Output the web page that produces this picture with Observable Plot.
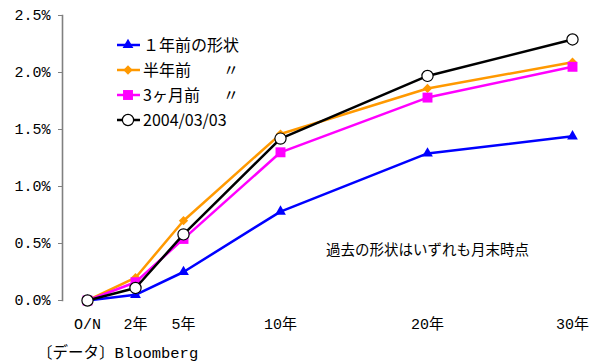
<!DOCTYPE html>
<html>
<head>
<meta charset="utf-8">
<script src="https://cdn.jsdelivr.net/npm/d3@7"></script>
<script src="https://cdn.jsdelivr.net/npm/@observablehq/plot@0.6"></script>
<style>
  html, body { margin: 0; padding: 0; background: #fff; }
  #chart { width: 600px; height: 363px; }
  #chart svg { display: block; }
</style>
</head>
<body>
<div id="chart"></div>
<script>
// Maturities (years; O/N = 0) and their axis labels
const maturities = [0, 2, 5, 10, 20, 30];
const tickLabels = ["O/N", "2年", "5年", "10年", "20年", "30年"];

// Yield curve shapes, %
const yearAgo        = [0.00, 0.05, 0.25, 0.78, 1.29, 1.44];
const halfYearAgo    = [0.00, 0.20, 0.70, 1.46, 1.86, 2.09];
const threeMonthsAgo = [0.00, 0.16, 0.54, 1.30, 1.78, 2.05];
const current        = [0.00, 0.11, 0.58, 1.42, 1.97, 2.29];

const seriesNames = ["１年前の形状", "半年前", "3ヶ月前", "2004/03/03"];
const seriesDitto = [false, true, true, false];
const seriesColors = ["#0000ff", "#ff9900", "#ff00ff", "#000000"];
const seriesSymbols = ["triangle", "diamond2", "square", "circle"];
const seriesR = [4.0, 4.2, 5.6, 5.6];
const yTicks = [0, 0.5, 1.0, 1.5, 2.0, 2.5];
const note = "過去の形状はいずれも月末時点";
const source = "〔データ〕Bloomberg";

const monoFont = "'Liberation Mono', 'Noto Sans CJK JP', monospace";
const allSeries = [yearAgo, halfYearAgo, threeMonthsAgo, current];
const rows = allSeries.flatMap((vals, s) =>
  vals.map((v, i) => ({series: s, m: maturities[i], v}))
);

const marks = [
  Plot.frame({anchor: "left", stroke: "#808080", strokeWidth: 1.6}),
  Plot.axisY({
    ticks: yTicks, tickFormat: d => d.toFixed(1) + "%", label: null,
    tickSize: 4, tickPadding: 8, stroke: "#808080",
    fontSize: 15, fontFamily: monoFont, fill: "#000"
  }),
  Plot.axisX({
    ticks: maturities, tickFormat: d => tickLabels[maturities.indexOf(d)], label: null,
    tickSize: 0, tickPadding: 18,
    fontSize: 15, fontFamily: monoFont, fill: "#000"
  }),
  Plot.text([note], {
    x: 20, y: 0.44, text: d => d, fontSize: 14.5,
    fontFamily: "Noto Sans CJK JP", fill: "#000", textAnchor: "middle"
  })
];

allSeries.forEach((vals, s) => {
  const data = rows.filter(d => d.series === s);
  marks.push(Plot.line(data, {x: "m", y: "v", stroke: seriesColors[s], strokeWidth: 2.5}));
  marks.push(Plot.dot(data, {
    x: "m", y: "v", symbol: seriesSymbols[s], r: seriesR[s],
    fill: s === 3 ? "#fff" : seriesColors[s],
    stroke: s === 3 ? "#000" : "none", strokeWidth: 1.2
  }));
});

const chart = Plot.plot({
  width: 600,
  height: 363,
  marginTop: 15,
  marginBottom: 63,
  marginLeft: 62,
  marginRight: 20,
  x: {type: "linear", domain: maturities, range: [87, 135, 183, 280, 427, 572]},
  y: {domain: [0, 2.5]},
  style: {background: "#fff"},
  marks
});

// Legend in the upper-left of the plot area
const svg = d3.select(chart);
const legend = svg.append("g").attr("text-anchor", "start");
const symbolFor = {
  triangle: d3.symbolTriangle, diamond2: d3.symbolDiamond2,
  square: d3.symbolSquare, circle: d3.symbolCircle
};
const rowY = [45, 70, 95, 120];
seriesNames.forEach((name, s) => {
  const y = rowY[s];
  const g = legend.append("g");
  g.append("line").attr("x1", 117).attr("x2", 140).attr("y1", y).attr("y2", y)
    .attr("stroke", seriesColors[s]).attr("stroke-width", 2.5);
  g.append("path")
    .attr("d", d3.symbol(symbolFor[seriesSymbols[s]], Math.PI * seriesR[s] ** 2)())
    .attr("transform", `translate(128,${y})`)
    .attr("fill", s === 3 ? "#fff" : seriesColors[s])
    .attr("stroke", s === 3 ? "#000" : "none").attr("stroke-width", 1.2);
  g.append("text").attr("x", 143).attr("y", y).attr("dy", "0.35em")
    .attr("text-anchor", "start")
    .attr("font-family", "Noto Sans CJK JP").attr("font-size", 16).attr("fill", "#000")
    .text(name);
  if (seriesDitto[s]) {
    g.append("text").attr("x", 231).attr("y", y).attr("dy", "0.35em")
      .attr("text-anchor", "middle")
      .attr("font-family", "Noto Sans CJK JP").attr("font-size", 16).attr("fill", "#000")
      .text("〃");
  }
});

// Data source line under the axis
svg.append("text")
  .attr("x", 37).attr("y", 353).attr("dy", "0.35em")
  .attr("text-anchor", "start")
  .attr("font-family", monoFont).attr("font-size", 15.5).attr("fill", "#000")
  .text(source);

document.getElementById("chart").appendChild(chart);
</script>
</body>
</html>
